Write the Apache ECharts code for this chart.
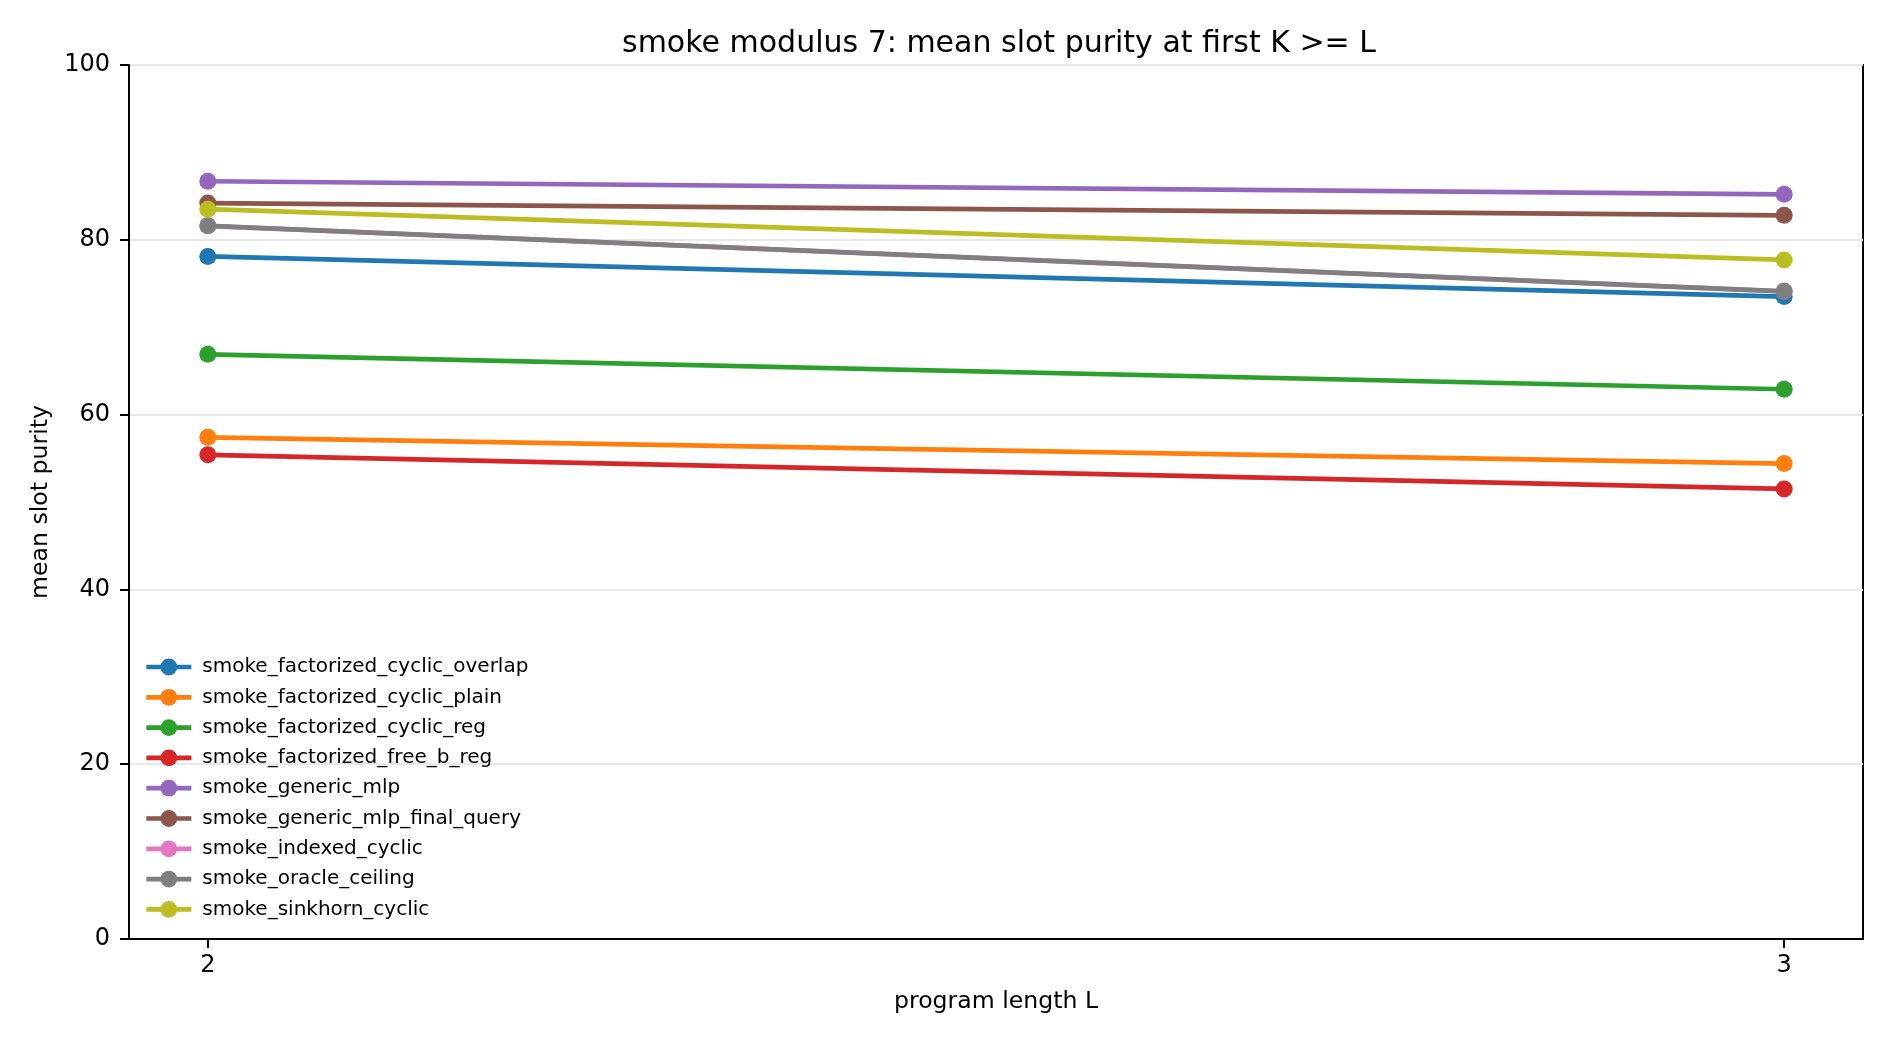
<!DOCTYPE html>
<html>
<head>
<meta charset="utf-8">
<script src="https://cdn.jsdelivr.net/npm/echarts@6/dist/echarts.min.js"></script>
<style>
  html, body { margin: 0; padding: 0; background: #ffffff; }
  #chart { width: 1890px; height: 1044px; }
</style>
</head>
<body>
<div id="chart"></div>
<script>
/* ===== data ===== */
const lengths = [2, 3];
const xTicks = [2, 3];
const yTicks = [0, 20, 40, 60, 80, 100];

const seriesNames = [
  'smoke_factorized_cyclic_overlap',
  'smoke_factorized_cyclic_plain',
  'smoke_factorized_cyclic_reg',
  'smoke_factorized_free_b_reg',
  'smoke_generic_mlp',
  'smoke_generic_mlp_final_query',
  'smoke_indexed_cyclic',
  'smoke_oracle_ceiling',
  'smoke_sinkhorn_cyclic',
];

const cyclicOverlap = [78.1, 73.5];
const cyclicPlain = [57.4, 54.4];
const cyclicReg = [66.9, 62.9];
const freeBReg = [55.4, 51.5];
const genericMlp = [86.7, 85.2];
const genericMlpFinalQuery = [84.2, 82.8];
const indexedCyclic = [81.6, 74.1];
const oracleCeiling = [81.6, 74.1];
const sinkhornCyclic = [83.5, 77.7];

const seriesValues = [
  cyclicOverlap, cyclicPlain, cyclicReg, freeBReg, genericMlp,
  genericMlpFinalQuery, indexedCyclic, oracleCeiling, sinkhornCyclic,
];

// matplotlib tab10
const palette = [
  '#1f77b4', '#ff7f0e', '#2ca02c', '#d62728', '#9467bd',
  '#8c564b', '#e377c2', '#7f7f7f', '#bcbd22',
];

const FONT = '"DejaVu Sans", sans-serif';

function buildSeries() {
  return seriesNames.map((name, i) => ({
    name: name,
    type: 'line',
    data: lengths.map((x, j) => [x, seriesValues[i][j]]),
    symbol: 'circle',
    symbolSize: 17,
    showSymbol: true,
    lineStyle: { width: 4.7, color: palette[i] },
    itemStyle: { color: palette[i], borderWidth: 0 },
    emphasis: { disabled: true },
    z: 2 + i,
  }));
}

const chart = echarts.init(document.getElementById('chart'), null, { renderer: 'canvas' });
chart.setOption({
  animation: false,
  backgroundColor: '#ffffff',
  color: palette,
  textStyle: { fontFamily: FONT },
  title: {
    text: 'smoke modulus 7: mean slot purity at first K >= L',
    left: 994,
    top: 24,
    textAlign: 'center',
    textStyle: { fontFamily: FONT, fontSize: 30, fontWeight: 'normal', color: '#000' },
  },
  legend: {
    orient: 'vertical',
    left: 144,
    top: 657,
    itemWidth: 45,
    itemHeight: 21,
    itemGap: 10.3,
    padding: 0,
    selectedMode: false,
    lineStyle: { width: 4.7 },
    textStyle: { fontFamily: FONT, fontSize: 20, color: '#000', padding: [0, 0, 0, 6] },
    data: seriesNames,
  },
  grid: {
    left: 129,
    right: 27,
    top: 65,
    bottom: 105,
    show: true,
    borderColor: '#000',
    borderWidth: 2,
    backgroundColor: 'transparent',
  },
  xAxis: {
    type: 'value',
    min: 1.95,
    max: 3.05,
    name: 'program length L',
    nameLocation: 'middle',
    nameGap: 51,
    nameTextStyle: { fontFamily: FONT, fontSize: 23.6, color: '#000' },
    axisLine: { show: true, onZero: false, lineStyle: { color: '#000', width: 2 } },
    axisTick: { show: true, length: 9, customValues: xTicks, lineStyle: { color: '#000', width: 2 } },
    axisLabel: { fontFamily: FONT, fontSize: 24, color: '#000', margin: 15, customValues: xTicks },
    splitLine: { show: false },
  },
  yAxis: {
    type: 'value',
    min: 0,
    max: 100,
    interval: 20,
    name: 'mean slot purity',
    nameLocation: 'middle',
    nameGap: 72,
    nameTextStyle: { fontFamily: FONT, fontSize: 23.6, color: '#000' },
    axisLine: { show: true, lineStyle: { color: '#000', width: 2 } },
    axisTick: { show: true, length: 9, lineStyle: { color: '#000', width: 2 } },
    axisLabel: { fontFamily: FONT, fontSize: 24, color: '#000', margin: 19, customValues: yTicks },
    splitLine: { show: true, lineStyle: { color: '#e8e8e8', width: 2 } },
  },
  series: buildSeries(),
});

window.addEventListener('resize', () => {
  chart.resize();
});
</script>
</body>
</html>
